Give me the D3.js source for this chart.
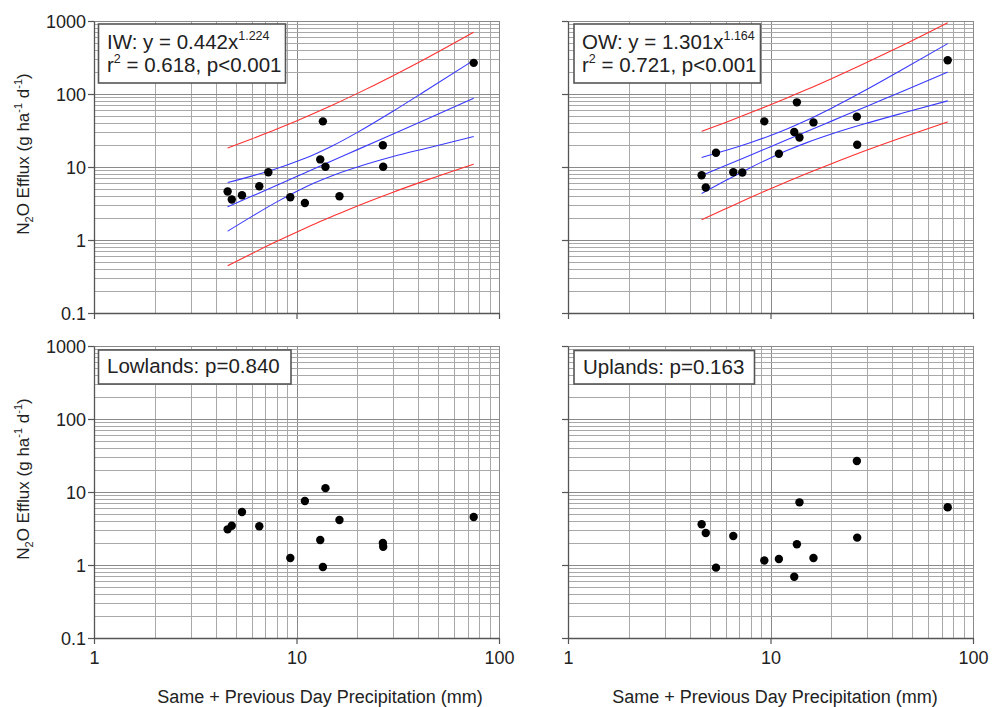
<!DOCTYPE html>
<html>
<head>
<meta charset="utf-8">
<script src="https://cdn.jsdelivr.net/npm/d3@7"></script>
<style>
  body { margin: 0; background: #fff; }
  text { font-family: "Liberation Sans", Arial, sans-serif; fill: #222; }
</style>
</head>
<body>
<div id="chart"></div>
<script>

// precipitation (same + previous day, mm) for each sampling day
const precip = [4.57, 4.79, 5.38, 6.55, 7.26, 9.32, 11.0, 13.1, 13.5, 13.9, 16.3, 26.7, 26.8, 75.0];

// N2O efflux (g ha-1 d-1), same order as precip
const iwFlux  = [4.61, 3.58, 4.10, 5.45, 8.49, 3.85, 3.22, 12.7, 42.2, 10.1, 3.97, 19.9, 10.1, 267];
const owFlux  = [7.71, 5.23, 15.7, 8.49, 8.40, 42.2, 15.2, 30.1, 76.9, 25.4, 40.8, 48.9, 20.2, 290];
const lowFlux = [3.08, 3.45, 5.32, 3.39, null, 1.25, 7.53, 2.20, 0.94, 11.3, 4.13, 2.00, 1.78, 4.54];
const upFlux  = [3.61, 2.74, 0.92, 2.50, null, 1.15, 1.21, 0.69, 1.92, 7.22, 1.25, 26.6, 2.37, 6.17];

// regression and band curves, sampled at curveX
const curveX = [4.57, 6, 8, 10, 12.3, 15, 20, 30, 45, 75];

const iwFit    = [2.84, 3.96, 5.63, 7.40, 9.54, 12.2, 17.3, 28.4, 46.6, 87.2];
const iwConfHi = [6.13, 7.50, 9.54, 11.9, 15.0, 19.4, 29.8, 58.2, 118, 290];
const iwConfLo = [1.32, 2.09, 3.33, 4.62, 6.07, 7.61, 10.0, 13.9, 18.4, 26.2];
const iwPredHi = [18.2, 24.2, 33.1, 42.8, 54.9, 70.3, 102, 178, 321, 701];
const iwPredLo = [0.443, 0.649, 0.958, 1.28, 1.66, 2.10, 2.93, 4.52, 6.77, 10.9];

const owFit    = [7.65, 10.5, 14.6, 19.0, 24.2, 30.4, 42.5, 68.2, 109, 199];
const owConfHi = [13.5, 16.8, 21.7, 27.0, 34.0, 43.3, 64.0, 116, 218, 490];
const owConfLo = [4.34, 6.52, 9.88, 13.3, 17.2, 21.4, 28.3, 39.9, 54.8, 80.5];
const owPredHi = [30.9, 40.8, 55.6, 71.3, 90.5, 114, 162, 272, 466, 948];
const owPredLo = [1.89, 2.68, 3.85, 5.05, 6.45, 8.09, 11.1, 17.1, 25.6, 41.6];

const xTicks = [1, 10, 100];
const yTicks = [0.1, 1, 10, 100, 1000];

const xTitle = "Same + Previous Day Precipitation (mm)";

// svg and panel layout
const width = 997;
const height = 707;
const plotW = 405;
const plotH = 292;

const svg = d3.select("#chart")
  .append("svg")
  .attr("width", width)
  .attr("height", height);

const panels = [
  {x0: 94,  y0: 21,  flux: iwFlux, yLabels: true,  xLabels: false,
   box: {x: 98.5, y: 24, w: 187, h: 59, tx: 107},
   lines: [["IW: y = 0.442x", "1.224", ""], ["r", "2", " = 0.618, p<0.001"]],
   bands: [iwFit, iwConfHi, iwConfLo, iwPredHi, iwPredLo]},
  {x0: 568, y0: 21,  flux: owFlux, yLabels: false, xLabels: false,
   box: {x: 574, y: 24, w: 186.5, h: 59, tx: 582},
   lines: [["OW: y = 1.301x", "1.164", ""], ["r", "2", " = 0.721, p<0.001"]],
   bands: [owFit, owConfHi, owConfLo, owPredHi, owPredLo]},
  {x0: 94,  y0: 346, flux: lowFlux, yLabels: true, xLabels: true,
   box: {x: 98.5, y: 350, w: 192.5, h: 34, tx: 107},
   lines: [["Lowlands: p=0.840", "", ""]], bands: null},
  {x0: 568, y0: 346, flux: upFlux, yLabels: false, xLabels: true,
   box: {x: 574, y: 350.5, w: 180.5, h: 33.5, tx: 583},
   lines: [["Uplands: p=0.163", "", ""]], bands: null}
];

const bandColors = ["#3a3aff", "#3a3aff", "#3a3aff", "#ff3030", "#ff3030"];

panels.forEach(p => {
  const x = d3.scaleLog().domain([1, 100]).range([p.x0, p.x0 + plotW]);
  const y = d3.scaleLog().domain([0.1, 1000]).range([p.y0 + plotH, p.y0]);

  const g = svg.append("g");

  // grid lines (all 1-9 subdivisions of each decade)
  g.append("g").selectAll("line.vg")
    .data(x.ticks())
    .enter().append("line")
      .attr("x1", d => Math.round(x(d)) + 0.5)
      .attr("x2", d => Math.round(x(d)) + 0.5)
      .attr("y1", p.y0)
      .attr("y2", p.y0 + plotH)
      .attr("stroke", d => xTicks.includes(d) ? "#8a8a8a" : "#a8a8a8")
      .attr("stroke-width", 1);

  g.append("g").selectAll("line.hg")
    .data(y.ticks())
    .enter().append("line")
      .attr("x1", p.x0)
      .attr("x2", p.x0 + plotW)
      .attr("y1", d => Math.round(y(d)) + 0.5)
      .attr("y2", d => Math.round(y(d)) + 0.5)
      .attr("stroke", d => yTicks.includes(d) ? "#8a8a8a" : "#a8a8a8")
      .attr("stroke-width", 1);

  // axes
  const yAxis = g.append("g")
    .attr("transform", `translate(${p.x0},0)`)
    .call(d3.axisLeft(y).tickValues(yTicks).tickSize(6).tickSizeOuter(0)
      .tickFormat(d => p.yLabels ? String(d) : ""));
  const xAxis = g.append("g")
    .attr("transform", `translate(0,${p.y0 + plotH})`)
    .call(d3.axisBottom(x).tickValues(xTicks).tickSize(6).tickSizeOuter(0)
      .tickFormat(d => p.xLabels ? String(d) : ""));

  [yAxis, xAxis].forEach(a => {
    a.select(".domain").attr("stroke", "#555").attr("stroke-width", 1.3);
    a.selectAll(".tick line").attr("stroke", "#555").attr("stroke-width", 1.2);
    a.selectAll(".tick text")
      .attr("font-size", "18px")
      .attr("font-family", "'Liberation Sans', Arial, sans-serif")
      .attr("fill", "#222");
  });
  yAxis.selectAll(".tick text").attr("x", -8).attr("dy", "0.36em");
  xAxis.selectAll(".tick text").attr("y", 13).attr("dy", "0.71em");

  // regression line with confidence (blue) and prediction (red) bands
  if (p.bands) {
    const line = d3.line()
      .x((d, i) => x(curveX[i]))
      .y(d => y(d))
      .curve(d3.curveMonotoneX);
    p.bands.forEach((b, i) => {
      g.append("path")
        .datum(b)
        .attr("d", line)
        .attr("fill", "none")
        .attr("stroke", bandColors[i])
        .attr("stroke-width", 1.1);
    });
  }

  // data points
  g.append("g").selectAll("circle")
    .data(precip.map((d, i) => ({px: d, flux: p.flux[i]})).filter(d => d.flux != null))
    .enter().append("circle")
      .attr("cx", d => x(d.px))
      .attr("cy", d => y(d.flux))
      .attr("r", 4.2)
      .attr("fill", "#000");

  // annotation box
  g.append("rect")
    .attr("x", p.box.x)
    .attr("y", p.box.y)
    .attr("width", p.box.w)
    .attr("height", p.box.h)
    .attr("fill", "#fff")
    .attr("stroke", "#555")
    .attr("stroke-width", 1.6);

  p.lines.forEach((ln, i) => {
    const t = g.append("text")
      .attr("x", p.box.tx)
      .attr("y", p.box.y + 25 + i * 23 - (p.lines.length === 1 ? 2 : 0))
      .attr("font-size", "20.5px");
    t.append("tspan").text(ln[0]);
    if (ln[1]) {
      t.append("tspan").attr("font-size", "12.5px").attr("dy", -9).text(ln[1]);
      if (ln[2]) t.append("tspan").attr("dy", 9).text(ln[2]);
    }
  });

  // axis titles
  if (p.yLabels) {
    const cy = p.y0 + plotH / 2 - 13;
    const t = g.append("text")
      .attr("transform", `translate(29,${cy}) rotate(-90)`)
      .attr("text-anchor", "middle")
      .attr("font-size", "17px");
    t.append("tspan").text("N");
    t.append("tspan").attr("font-size", "11px").attr("dy", 4).text("2");
    t.append("tspan").attr("dy", -4).text("O Efflux (g ha");
    t.append("tspan").attr("font-size", "11px").attr("dy", -7).text("-1");
    t.append("tspan").attr("dy", 7).text(" d");
    t.append("tspan").attr("font-size", "11px").attr("dy", -7).text("-1");
    t.append("tspan").attr("dy", 7).text(")");
  }
  if (p.xLabels) {
    g.append("text")
      .attr("x", p.x0 === 94 ? 320 : 775)
      .attr("y", 703)
      .attr("text-anchor", "middle")
      .attr("font-size", "18px")
      .text(xTitle);
  }
});

</script>
</body>
</html>
